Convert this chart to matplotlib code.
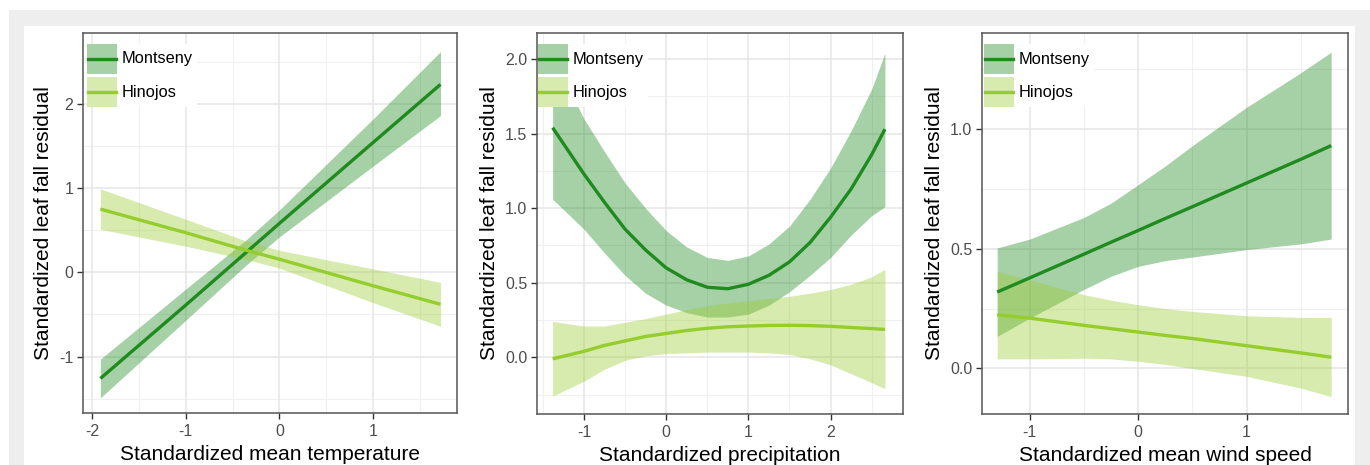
import matplotlib
matplotlib.use("Agg")

import matplotlib.pyplot as plt
from matplotlib.lines import Line2D
from matplotlib.patches import Rectangle

plt.rcParams["font.family"] = ["Liberation Sans", "DejaVu Sans"]
plt.rcParams["axes.unicode_minus"] = False

SITES = ["Montseny", "Hinojos"]
LINE_COLORS = ["#1f8b1f", "#94cd2c"]
BAND_COLORS = ["#228b22", "#9acd32"]

# panel 1: temperature
TEMP_X = [-1.91, -1.0, -0.35, 0.0, 1.0, 1.72]
TEMP_FIT = {
    "Montseny": [-1.26, -0.39, 0.24, 0.58, 1.54, 2.23],
    "Hinojos": [0.75, 0.47, 0.26, 0.155, -0.16, -0.38],
}
TEMP_LO = {
    "Montseny": [-1.49, -0.57, 0.09, 0.42, 1.26, 1.86],
    "Hinojos": [0.51, 0.31, 0.15, 0.05, -0.36, -0.64],
}
TEMP_HI = {
    "Montseny": [-1.03, -0.20, 0.39, 0.74, 1.82, 2.62],
    "Hinojos": [0.99, 0.63, 0.37, 0.26, 0.04, -0.12],
}

# panel 2: precipitation
PREC_X = [-1.38, -1.0, -0.75, -0.5, -0.25, 0.0, 0.25, 0.5, 0.75,
          1.0, 1.25, 1.5, 1.75, 2.0, 2.25, 2.5, 2.66]
PREC_FIT = {
    "Montseny": [1.54, 1.23, 1.04, 0.86, 0.72, 0.60, 0.52, 0.47, 0.46,
                 0.49, 0.55, 0.64, 0.77, 0.94, 1.13, 1.36, 1.53],
    "Hinojos": [-0.01, 0.04, 0.08, 0.11, 0.14, 0.16, 0.18, 0.195, 0.205,
                0.21, 0.214, 0.215, 0.213, 0.208, 0.20, 0.193, 0.187],
}
PREC_LO = {
    "Montseny": [1.06, 0.86, 0.70, 0.55, 0.43, 0.35, 0.30, 0.27, 0.27,
                 0.29, 0.35, 0.44, 0.55, 0.67, 0.82, 0.95, 1.01],
    "Hinojos": [-0.26, -0.16, -0.08, -0.02, 0.01, 0.025, 0.03, 0.035, 0.035,
                0.035, 0.03, 0.02, -0.01, -0.05, -0.11, -0.17, -0.21],
}
PREC_HI = {
    "Montseny": [2.02, 1.60, 1.38, 1.17, 1.00, 0.85, 0.74, 0.67, 0.65,
                 0.68, 0.76, 0.88, 1.06, 1.27, 1.52, 1.80, 2.04],
    "Hinojos": [0.24, 0.21, 0.21, 0.235, 0.26, 0.29, 0.32, 0.345, 0.365,
                0.38, 0.395, 0.41, 0.43, 0.455, 0.49, 0.54, 0.59],
}

# panel 3: wind speed
WIND_X = [-1.30, -1.0, -0.5, -0.25, 0.0, 0.25, 0.5, 1.0, 1.5, 1.78]
WIND_FIT = {
    "Montseny": [0.319, 0.378, 0.477, 0.527, 0.576, 0.626, 0.675, 0.774, 0.873, 0.93],
    "Hinojos": [0.224, 0.21, 0.18, 0.166, 0.152, 0.138, 0.125, 0.095, 0.065, 0.047],
}
WIND_LO = {
    "Montseny": [0.134, 0.21, 0.33, 0.385, 0.426, 0.45, 0.465, 0.496, 0.52, 0.54],
    "Hinojos": [0.04, 0.04, 0.043, 0.04, 0.03, 0.017, 0.0, -0.033, -0.082, -0.117],
}
WIND_HI = {
    "Montseny": [0.503, 0.54, 0.63, 0.69, 0.767, 0.845, 0.93, 1.09, 1.234, 1.32],
    "Hinojos": [0.405, 0.37, 0.308, 0.285, 0.266, 0.25, 0.238, 0.22, 0.213, 0.213],
}

PANELS = [
    dict(x=TEMP_X, fit=TEMP_FIT, lo=TEMP_LO, hi=TEMP_HI,
         xlabel="Standardized mean temperature",
         xlim=(-2.096, 1.896), ylim=(-1.67, 2.84),
         xticks=[-2, -1, 0, 1], yticks=[-1, 0, 1, 2],
         xminor=[-1.5, -0.5, 0.5, 1.5], yminor=[-1.5, -0.5, 0.5, 1.5, 2.5],
         yfmt="{:.0f}", box=(83, 457, 33, 413), legx=4),
    dict(x=PREC_X, fit=PREC_FIT, lo=PREC_LO, hi=PREC_HI,
         xlabel="Standardized precipitation",
         xlim=(-1.57, 2.88), ylim=(-0.38, 2.175),
         xticks=[-1, 0, 1, 2], yticks=[0.0, 0.5, 1.0, 1.5, 2.0],
         xminor=[-1.5, -0.5, 0.5, 1.5, 2.5], yminor=[-0.25, 0.25, 0.75, 1.25, 1.75],
         yfmt="{:.1f}", box=(537, 903, 33, 414), legx=1),
    dict(x=WIND_X, fit=WIND_FIT, lo=WIND_LO, hi=WIND_HI,
         xlabel="Standardized mean wind speed",
         xlim=(-1.44, 1.935), ylim=(-0.19, 1.40),
         xticks=[-1, 0, 1], yticks=[0.0, 0.5, 1.0],
         xminor=[-0.5, 0.5, 1.5], yminor=[0.25, 0.75, 1.25],
         yfmt="{:.1f}", box=(982, 1348, 33, 414), legx=2),
]

W, H = 1370, 465
LW = 2.4
fig = plt.figure(figsize=(W / 100, H / 100), dpi=100)
fig.patches.append(Rectangle((9 / W, 0), 1 - 9 / W, 1 - 10 / H,
                             transform=fig.transFigure, facecolor="#eeeeee",
                             edgecolor="none", zorder=-10))
fig.patches.append(Rectangle((24 / W, 0), (1355 - 24) / W, 1 - 26 / H,
                             transform=fig.transFigure, facecolor="white",
                             edgecolor="none", zorder=-9))

for p in PANELS:
    l, r, t, b = p["box"]
    aw, ah = r - l, b - t
    ax = fig.add_axes([l / W, 1 - b / H, aw / W, ah / H])
    ax.set_facecolor("white")

    for xv in p["xminor"]:
        ax.axvline(xv, color="#f0f0f0", lw=0.8, zorder=0)
    for yv in p["yminor"]:
        ax.axhline(yv, color="#f0f0f0", lw=0.8, zorder=0)
    for xv in p["xticks"]:
        ax.axvline(xv, color="#e6e6e6", lw=1.1, zorder=0)
    for yv in p["yticks"]:
        ax.axhline(yv, color="#e6e6e6", lw=1.1, zorder=0)

    for site, lc, bc in zip(SITES, LINE_COLORS, BAND_COLORS):
        ax.fill_between(p["x"], p["lo"][site], p["hi"][site],
                        color=bc, alpha=0.4, lw=0, zorder=1)
        ax.plot(p["x"], p["fit"][site], color=lc, lw=LW, zorder=2,
                solid_capstyle="butt")

    # legend drawn by hand (ggplot-like square keys), pixel offsets in axes
    kx, ky, ks, gap = p["legx"], 11, 30, 3
    ax.add_patch(Rectangle((kx / aw, 1 - (ky + 2 * ks + gap) / ah),
                           (ks + 80) / aw, (2 * ks + gap) / ah,
                           transform=ax.transAxes, facecolor="white",
                           edgecolor="none", zorder=4))
    for i, (site, lc, bc) in enumerate(zip(SITES, LINE_COLORS, BAND_COLORS)):
        top = ky + i * (ks + gap)
        ax.add_patch(Rectangle((kx / aw, 1 - (top + ks) / ah), ks / aw, ks / ah,
                               transform=ax.transAxes, facecolor=bc, alpha=0.4,
                               edgecolor="none", zorder=5))
        ym = 1 - (top + ks / 2) / ah
        ax.add_line(Line2D([(kx + 1) / aw, (kx + ks - 1) / aw], [ym, ym],
                           transform=ax.transAxes, color=lc, lw=LW, zorder=6))
        ax.text((kx + ks + 5) / aw, ym, site, transform=ax.transAxes,
                fontsize=11.8, va="center", ha="left", color="black", zorder=7)

    ax.set_xlim(*p["xlim"])
    ax.set_ylim(*p["ylim"])
    ax.set_xticks(p["xticks"])
    ax.set_xticklabels([str(v) for v in p["xticks"]])
    ax.set_yticks(p["yticks"])
    ax.set_yticklabels([p["yfmt"].format(v) for v in p["yticks"]])
    ax.tick_params(axis="both", labelsize=11.5, labelcolor="#4d4d4d",
                   color="#333333", length=4, width=1.0, pad=3)
    ax.tick_params(axis="x", pad=4)
    for s in ax.spines.values():
        s.set_color("#555555")
        s.set_linewidth(1.1)
    ax.set_xlabel(p["xlabel"], fontsize=15, labelpad=4)
    ax.set_ylabel("Standardized leaf fall residual", fontsize=15, labelpad=4)

fig.savefig("out.png", dpi=100)
